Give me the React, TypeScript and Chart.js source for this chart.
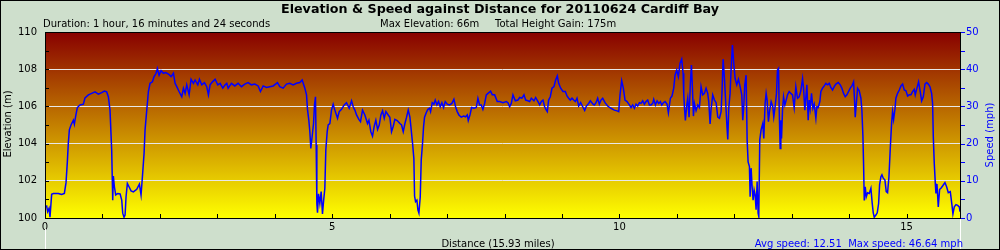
import React, { useEffect, useRef } from "react";
import { Chart, registerables } from "chart.js";

Chart.register(...registerables);

const TITLE = "Elevation & Speed against Distance for 20110624 Cardiff Bay";
const SUB_DURATION = "Duration: 1 hour, 16 minutes and 24 seconds";
const SUB_MAX_ELEVATION = "Max Elevation: 66m";
const SUB_HEIGHT_GAIN = "Total Height Gain: 175m";
const X_TITLE = "Distance (15.93 miles)";
const SPEED_SUMMARY = "Avg speed: 12.51  Max speed: 46.64 mph";
const Y_LEFT_TITLE = "Elevation (m)";
const Y_RIGHT_TITLE = "Speed (mph)";

const totalDistance = 15.93;
const elevationMin = 100;
const elevationMax = 110;
const speedMin = 0;
const speedMax = 50;

const distanceMiles = [
  0.000, 0.029, 0.046, 0.070, 0.087, 0.116, 0.145, 0.232, 0.290, 0.337, 0.366, 0.389, 0.406, 0.424, 0.453, 0.494, 0.511, 0.534, 0.563, 0.610,
  0.668, 0.697, 0.755, 0.813, 0.871, 0.929, 0.987, 1.034, 1.074, 1.103, 1.132, 1.161, 1.179, 1.190, 1.208, 1.231, 1.266, 1.307, 1.336, 1.353,
  1.376, 1.394, 1.411, 1.434, 1.463, 1.498, 1.539, 1.597, 1.643, 1.672, 1.696, 1.725, 1.742, 1.771, 1.800, 1.829, 1.870, 1.899, 1.934, 1.957,
  1.986, 2.021, 2.061, 2.102, 2.149, 2.195, 2.236, 2.265, 2.294, 2.334, 2.381, 2.410, 2.439, 2.468, 2.509, 2.543, 2.584, 2.613, 2.660, 2.689,
  2.729, 2.776, 2.816, 2.845, 2.874, 2.915, 2.962, 3.008, 3.049, 3.095, 3.136, 3.165,
  3.188, 3.246, 3.304, 3.362, 3.420, 3.478, 3.536, 3.594, 3.653, 3.711, 3.751, 3.798, 3.856, 3.914, 3.972, 4.047, 4.088, 4.146, 4.204, 4.262,
  4.320, 4.378, 4.436, 4.477, 4.524, 4.553, 4.570, 4.593, 4.611, 4.628, 4.651, 4.675, 4.692, 4.709, 4.721, 4.733, 4.744, 4.762, 4.785, 4.808,
  4.831, 4.849, 4.872, 4.889, 4.913, 4.930, 4.959, 4.988, 5.017, 5.046, 5.093, 5.122, 5.162, 5.209, 5.249, 5.296, 5.337, 5.366, 5.395, 5.424,
  5.464, 5.493, 5.528, 5.569, 5.615, 5.639, 5.673, 5.702, 5.731, 5.760, 5.790, 5.819, 5.848, 5.877, 5.906, 5.935, 5.975, 6.004, 6.033, 6.062,
  6.091, 6.132, 6.179, 6.208, 6.237, 6.266, 6.295, 6.324, 6.353, 6.370,
  6.399, 6.422, 6.434, 6.451, 6.475, 6.492, 6.510, 6.533, 6.550, 6.573, 6.591, 6.608, 6.637, 6.666, 6.695, 6.713, 6.742, 6.771, 6.794, 6.823,
  6.852, 6.881, 6.910, 6.939, 6.968, 7.003, 7.044, 7.084, 7.119, 7.148, 7.177, 7.206, 7.247, 7.288, 7.323, 7.352, 7.369, 7.398, 7.427, 7.468,
  7.508, 7.537, 7.566, 7.595, 7.624, 7.654, 7.683, 7.712, 7.758, 7.787, 7.828, 7.874, 7.915, 7.973, 8.031, 8.060, 8.089, 8.118, 8.147, 8.188,
  8.234, 8.263, 8.304, 8.339, 8.368, 8.408, 8.437, 8.467, 8.513, 8.542, 8.583, 8.612, 8.641, 8.670, 8.699, 8.728, 8.745, 8.768, 8.797, 8.827,
  8.861, 8.890, 8.919, 8.943, 8.978, 9.018, 9.059, 9.088, 9.117, 9.146, 9.175, 9.204, 9.233, 9.262, 9.291, 9.326, 9.355, 9.396, 9.425, 9.465,
  9.494, 9.541,
  9.564, 9.593, 9.622, 9.651, 9.680, 9.709, 9.750, 9.796, 9.854, 9.912, 9.959, 9.988, 10.011, 10.040, 10.069, 10.098, 10.133, 10.174, 10.203, 10.232,
  10.261, 10.290, 10.319, 10.348, 10.377, 10.406, 10.435, 10.464, 10.493, 10.522, 10.551, 10.580, 10.598, 10.627, 10.656, 10.685, 10.714, 10.737, 10.766, 10.795,
  10.830, 10.853, 10.888, 10.917, 10.946, 10.969, 10.998, 11.027, 11.056, 11.085, 11.109, 11.120, 11.132, 11.149, 11.173, 11.190, 11.213, 11.236, 11.254, 11.271,
  11.289, 11.306, 11.335, 11.364, 11.393, 11.422, 11.451, 11.480, 11.509, 11.538, 11.556, 11.579, 11.596, 11.625, 11.655, 11.684, 11.713, 11.742, 11.771, 11.788,
  11.806, 11.829, 11.858, 11.875, 11.887, 11.904, 11.927, 11.945, 11.968, 11.991, 12.015, 12.044, 12.073, 12.102, 12.131, 12.148, 12.165, 12.183, 12.206, 12.224,
  12.241, 12.264, 12.276, 12.293, 12.311, 12.328, 12.346, 12.363, 12.380, 12.398, 12.415, 12.427, 12.444, 12.467, 12.496, 12.514, 12.537, 12.555, 12.572, 12.595,
  12.613, 12.642, 12.671, 12.688, 12.711, 12.735, 12.752,
  12.770, 12.782, 12.799, 12.811, 12.823, 12.840, 12.858, 12.881, 12.904, 12.927, 12.956, 12.985, 13.014, 13.043, 13.072, 13.101, 13.130, 13.159, 13.189, 13.206,
  13.229, 13.247, 13.264, 13.287, 13.305, 13.322, 13.345, 13.369, 13.392, 13.421, 13.438, 13.461, 13.490, 13.508, 13.537, 13.566, 13.595, 13.624, 13.653, 13.682,
  13.711, 13.740, 13.769, 13.810, 13.845, 13.874, 13.903, 13.932, 13.961, 13.990, 14.019, 14.048, 14.077, 14.094, 14.106, 14.123, 14.147, 14.176, 14.205, 14.222,
  14.240, 14.251, 14.263, 14.280, 14.298, 14.321, 14.350, 14.379, 14.402, 14.420, 14.437, 14.466, 14.489, 14.513, 14.530, 14.553, 14.571, 14.594, 14.623, 14.646,
  14.669, 14.693, 14.716, 14.739, 14.756, 14.774, 14.797, 14.814, 14.843, 14.873, 14.902, 14.931, 14.960, 14.989, 15.018, 15.047, 15.076, 15.105, 15.134, 15.151,
  15.180, 15.209, 15.238, 15.262, 15.291, 15.320, 15.349, 15.378, 15.407, 15.436, 15.453, 15.465, 15.482, 15.500, 15.511, 15.529, 15.552, 15.575, 15.598, 15.627,
  15.668, 15.697, 15.726, 15.761, 15.790, 15.807, 15.831, 15.860, 15.889, 15.918, 15.930,
];

const speedMph = [
  3.0, 3.2, 1.7, 2.6, 0.2, 6.4, 6.6, 6.6, 6.3, 6.6, 9.5, 15.1, 20.1, 23.7, 25.0, 26.3, 25.2, 27.4, 29.7, 30.4,
  30.6, 32.3, 33.1, 33.5, 33.9, 33.3, 33.7, 34.1, 33.9, 32.6, 29.0, 18.3, 4.8, 11.3, 8.4, 6.2, 6.6, 6.5, 4.8, 1.3,
  0.2, 0.8, 5.7, 9.3, 8.4, 7.3, 7.0, 7.7, 9.1, 6.2, 11.1, 17.4, 23.7, 28.9, 34.0, 36.2, 36.6, 38.0, 38.9, 40.2,
  38.4, 39.6, 38.9, 39.1, 38.7, 38.0, 38.9, 36.2, 35.3, 34.0, 32.6, 34.9, 33.5, 35.8, 33.1, 37.3, 36.2, 37.1, 35.8, 37.3,
  35.8, 36.4, 35.3, 33.1, 35.8, 36.6, 37.3, 35.8, 36.2, 34.9, 35.8, 36.2,
  34.9, 36.2, 35.5, 36.2, 35.3, 36.0, 36.4, 35.8, 36.0, 35.5, 34.0, 35.5, 35.1, 35.3, 35.5, 36.4, 35.3, 34.9, 36.0, 36.2,
  35.8, 36.2, 36.4, 37.1, 34.9, 33.1, 29.2, 26.3, 23.2, 18.7, 21.9, 25.4, 30.4, 32.6, 19.6, 3.9, 1.4, 6.5, 3.9, 7.1,
  1.1, 4.4, 8.0, 18.3, 23.2, 25.0, 25.4, 29.0, 30.6, 29.0, 26.8, 28.6, 29.2, 30.4, 31.0, 29.5, 31.5, 29.9, 29.0, 27.7,
  26.5, 25.9, 29.0, 27.7, 25.4, 26.3, 23.2, 22.0, 24.6, 26.3, 23.8, 25.0, 27.7, 28.8, 26.8, 28.6, 27.7, 27.1, 23.2, 24.6,
  26.5, 26.2, 25.4, 25.0, 23.2, 25.4, 27.1, 29.0, 27.1, 24.6,
  20.1, 16.0, 5.9, 4.4, 4.8, 2.2, 1.3, 5.7, 15.6, 20.1, 24.6, 27.1, 28.3, 29.2, 29.5, 28.6, 31.0, 30.6, 31.7, 30.4,
  31.3, 29.9, 31.0, 29.7, 31.3, 30.6, 30.4, 30.8, 31.9, 29.9, 28.6, 27.7, 27.1, 27.4, 27.2, 27.7, 26.2, 27.7, 29.7, 29.5,
  29.7, 32.2, 30.4, 30.4, 29.2, 30.8, 33.1, 33.5, 34.1, 33.1, 33.1, 31.3, 31.3, 31.0, 31.3, 31.0, 29.9, 30.8, 33.1, 31.5,
  31.7, 32.4, 32.2, 33.1, 31.7, 31.5, 31.3, 32.2, 31.5, 32.4, 31.3, 30.4, 31.3, 31.7, 29.9, 29.0, 28.6, 31.7, 32.6, 34.9,
  35.3, 37.1, 38.2, 36.2, 34.9, 34.0, 34.0, 32.8, 32.2, 31.7, 32.2, 31.7, 31.3, 32.2, 30.1, 31.0, 30.1, 28.9, 30.1, 30.8,
  31.5, 30.6,
  30.4, 31.0, 32.2, 30.6, 31.7, 32.2, 31.0, 30.1, 29.5, 29.0, 28.8, 28.6, 33.1, 36.9, 34.9, 31.7, 31.3, 30.4, 29.7, 30.4,
  29.5, 30.6, 30.1, 31.0, 30.8, 31.5, 30.6, 31.3, 31.7, 30.4, 30.4, 30.8, 31.9, 30.4, 31.5, 30.8, 31.3, 30.4, 31.0, 31.3,
  30.6, 28.3, 32.2, 32.8, 34.9, 38.4, 39.8, 38.0, 41.6, 42.7, 38.9, 33.5, 29.9, 26.2, 30.4, 32.2, 27.1, 36.2, 41.1, 35.3,
  27.4, 30.8, 28.9, 30.4, 29.7, 35.3, 33.1, 33.5, 34.9, 33.5, 31.3, 25.3, 29.2, 33.1, 31.7, 31.0, 27.1, 26.8, 28.6, 34.4,
  42.7, 37.5, 29.0, 24.1, 21.1, 29.5, 33.5, 40.0, 46.5, 41.6, 37.5, 35.8, 37.3, 35.3, 33.1, 26.3, 29.9, 35.8, 38.4, 21.0,
  15.1, 13.8, 5.7, 13.4, 8.4, 4.8, 7.5, 6.2, 2.2, 9.8, 1.3, 0.4, 21.0, 23.7, 25.4, 21.4, 30.8, 33.5, 31.7, 25.9,
  28.6, 31.3, 29.9, 27.2, 29.9, 33.5, 39.8,
  40.2, 29.5, 18.7, 26.3, 21.4, 29.0, 32.6, 30.4, 31.7, 33.1, 34.0, 33.5, 33.1, 29.7, 35.3, 32.2, 32.6, 34.2, 37.5, 34.9,
  29.0, 32.6, 35.8, 26.3, 31.7, 29.5, 33.5, 29.5, 30.6, 26.8, 29.9, 29.7, 31.3, 34.0, 34.9, 35.5, 36.2, 35.8, 36.2, 35.1,
  34.4, 35.3, 36.0, 36.4, 35.8, 34.9, 33.5, 32.6, 33.1, 34.0, 34.9, 35.5, 36.6, 31.7, 27.1, 30.4, 34.9, 34.2, 32.2, 29.0,
  21.9, 14.7, 4.7, 8.4, 5.7, 6.8, 6.6, 8.0, 3.9, 1.4, 0.2, 0.8, 1.4, 3.9, 8.9, 11.1, 11.6, 10.7, 10.2, 7.1,
  6.8, 11.1, 18.7, 25.4, 28.6, 26.5, 29.2, 32.2, 33.5, 34.4, 35.5, 36.0, 34.4, 34.2, 32.8, 33.1, 33.1, 34.0, 34.6, 33.1,
  34.9, 36.6, 34.0, 31.5, 32.6, 36.0, 36.4, 36.0, 35.3, 33.5, 30.8, 21.9, 14.7, 9.3, 6.6, 9.1, 3.0, 7.7, 8.0, 8.6,
  9.5, 8.4, 6.8, 7.1, 3.5, 1.1, 3.0, 3.6, 3.4, 3.0, 1.7,
];

const FONT = "'DejaVu Sans', Verdana, sans-serif";
const PAGE_BG = "#CEDFCC";
const SPEED_BLUE = "#0000FF";

const decorPlugin = {
  id: "decor",
  beforeDraw(chart: any) {
    const { ctx, chartArea: a, width, height } = chart;
    ctx.save();
    ctx.fillStyle = PAGE_BG;
    ctx.fillRect(0, 0, width, height);
    const g = ctx.createLinearGradient(0, a.top, 0, a.bottom);
    g.addColorStop(0, "#880000");
    g.addColorStop(1, "#FFFF00");
    ctx.fillStyle = g;
    ctx.fillRect(a.left, a.top, a.right - a.left, a.bottom - a.top);
    ctx.restore();
  },
  afterDraw(chart: any) {
    const { ctx, chartArea: a, width, height, scales } = chart;
    const xs = scales.x;
    const yl = scales.y;
    const yr = scales.y1;
    ctx.save();
    ctx.strokeStyle = "#000";
    ctx.lineWidth = 1;
    ctx.strokeRect(a.left + 0.5, a.top + 0.5, a.right - a.left, a.bottom - a.top);
    ctx.beginPath();
    for (let v = elevationMin + 1; v < elevationMax; v++) {
      const y = Math.round(yl.getPixelForValue(v)) + 0.5;
      ctx.moveTo(a.left, y);
      ctx.lineTo(a.left + 4, y);
    }
    for (let d = 1; d <= Math.floor(totalDistance); d++) {
      const x = Math.round(xs.getPixelForValue(d)) + 0.5;
      ctx.moveTo(x, a.bottom);
      ctx.lineTo(x, a.bottom - 4);
    }
    ctx.stroke();
    ctx.strokeStyle = SPEED_BLUE;
    ctx.beginPath();
    for (let s = speedMin; s <= speedMax; s += 5) {
      const y = Math.round(yr.getPixelForValue(s)) + 0.5;
      ctx.moveTo(a.right + 1, y);
      ctx.lineTo(a.right + 5, y);
    }
    ctx.stroke();
    ctx.strokeStyle = "#FFFFFF";
    ctx.beginPath();
    ctx.moveTo(a.left + 0.5, 229);
    ctx.lineTo(a.left + 0.5, height - 1);
    ctx.moveTo(a.right + 0.5, a.bottom + 1);
    ctx.lineTo(a.right + 0.5, height - 1);
    ctx.stroke();

    ctx.fillStyle = "#000";
    ctx.textBaseline = "alphabetic";
    ctx.font = `bold 12.7px ${FONT}`;
    ctx.textAlign = "center";
    ctx.fillText(TITLE, 500, 12.5);
    ctx.font = `10px ${FONT}`;
    ctx.textAlign = "left";
    ctx.fillText(SUB_DURATION, 43, 27);
    ctx.fillText(SUB_MAX_ELEVATION, 380, 27);
    ctx.fillText(SUB_HEIGHT_GAIN, 495, 27);
    ctx.textAlign = "center";
    ctx.fillText(X_TITLE, 498, 247);
    ctx.fillStyle = SPEED_BLUE;
    ctx.textAlign = "right";
    ctx.fillText(SPEED_SUMMARY, 963, 247);
    ctx.save();
    ctx.translate(11, 124);
    ctx.rotate(-Math.PI / 2);
    ctx.textAlign = "center";
    ctx.fillStyle = "#000";
    ctx.fillText(Y_LEFT_TITLE, 0, 0);
    ctx.restore();
    ctx.save();
    ctx.translate(993, 135);
    ctx.rotate(-Math.PI / 2);
    ctx.textAlign = "center";
    ctx.fillStyle = SPEED_BLUE;
    ctx.fillText(Y_RIGHT_TITLE, 0, 0);
    ctx.restore();
    ctx.strokeStyle = "#000";
    ctx.strokeRect(0.5, 0.5, width - 1, height - 1);
    ctx.restore();
  },
};

export default function App() {
  const canvasRef = useRef<HTMLCanvasElement | null>(null);

  useEffect(() => {
    document.body.style.margin = "0";
    const canvas = canvasRef.current;
    if (!canvas) return;
    const points = distanceMiles.map((d, i) => ({ x: d, y: speedMph[i] }));
    const tickFont = { family: FONT, size: 10 };
    const chart = new Chart(canvas, {
      type: "line",
      data: {
        datasets: [
          {
            label: "Speed",
            data: points,
            yAxisID: "y1",
            xAxisID: "x",
            borderColor: SPEED_BLUE,
            borderWidth: 1.5,
            pointRadius: 0,
            fill: false,
            tension: 0,
          },
        ],
      },
      options: {
        responsive: false,
        animation: false,
        devicePixelRatio: 1,
        layout: { padding: { top: 32, left: 0, right: 0, bottom: 0 } },
        plugins: {
          legend: { display: false },
          tooltip: { enabled: false },
          title: { display: false },
        },
        scales: {
          x: {
            type: "linear",
            position: "bottom",
            min: 0,
            max: totalDistance,
            afterFit: (s: any) => {
              s.height = 32;
            },
            grid: { display: false, drawTicks: false },
            border: { display: false },
            ticks: {
              stepSize: 5,
              includeBounds: false,
              color: "#000",
              font: tickFont,
              padding: 3,
              maxRotation: 0,
              autoSkip: false,
            },
          },
          y: {
            type: "linear",
            position: "left",
            min: elevationMin,
            max: elevationMax,
            afterFit: (s: any) => {
              s.width = 45;
            },
            grid: { color: "#E8E8E8", drawTicks: false, lineWidth: 1 },
            border: { display: false },
            ticks: { stepSize: 2, color: "#000", font: tickFont, padding: 8 },
          },
          y1: {
            type: "linear",
            position: "right",
            min: speedMin,
            max: speedMax,
            afterFit: (s: any) => {
              s.width = 40;
            },
            grid: { display: false, drawTicks: false },
            border: { display: false },
            ticks: { stepSize: 10, color: SPEED_BLUE, font: tickFont, padding: 6 },
          },
        },
      },
      plugins: [decorPlugin],
    } as any);
    return () => chart.destroy();
  }, []);

  return <canvas ref={canvasRef} width={1000} height={250} style={{ display: "block" }} />;
}
